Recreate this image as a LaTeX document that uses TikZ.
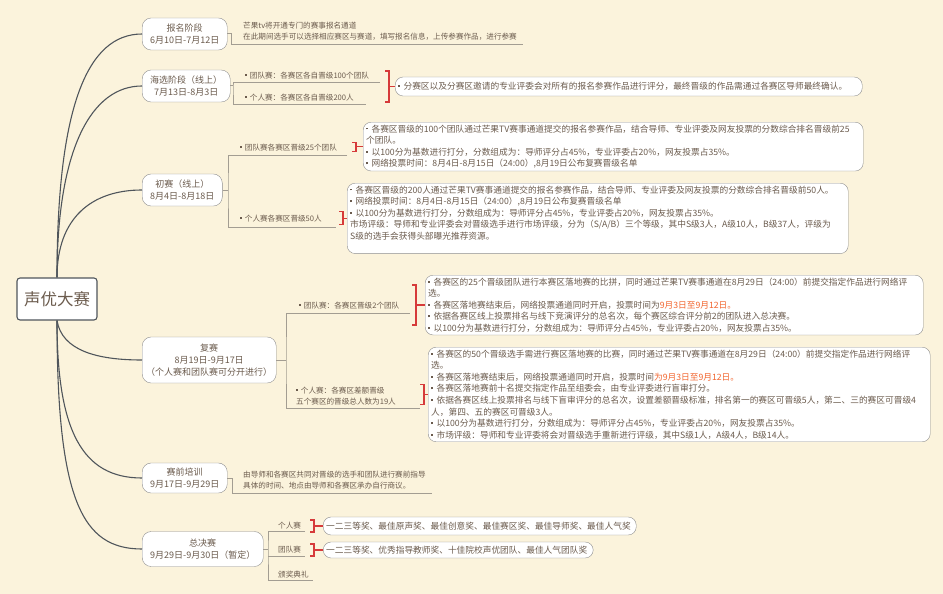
\documentclass[tikz,border=0pt]{standalone}
\usepackage{fontspec}
\setmainfont{Noto Sans CJK SC}
\definecolor{bg}{HTML}{FBF3DC}
\definecolor{txt}{HTML}{6B5B4D}
\definecolor{boxgray}{HTML}{8E8E8E}
\definecolor{linkgray}{HTML}{A39D92}
\definecolor{trunkgray}{HTML}{4F555B}
\definecolor{bracered}{HTML}{D63A3A}
\definecolor{hot}{HTML}{F2652E}
\newcommand{\hot}[1]{\textcolor{hot}{#1}}
\newcommand{\bul}{\rule[0.3em]{0.22em}{0.22em}\hspace{0.4em}}
\begin{document}
\begin{tikzpicture}[x=1pt, y=-1pt,
    trunk/.style={draw=trunkgray, line width=1.1pt},
    link/.style={draw=linkgray, line width=1pt},
    brace/.style={draw=bracered, line width=1.2pt},
    rootbox/.style={draw=trunkgray, line width=1.1pt, fill=white, rounded corners=3pt,
        minimum width=80pt, minimum height=42pt, text=txt, font=\fontsize{16.5}{20}\selectfont},
    stage/.style={draw=boxgray, fill=white, rounded corners=9pt, anchor=west, align=center,
        inner xsep=8pt, inner ysep=3pt, minimum height=32pt, text=txt, font=\fontsize{9}{12}\selectfont},
    leaf/.style={anchor=base west, inner sep=0pt, align=left, text=txt, font=\fontsize{7.6}{11}\selectfont},
    detail/.style={draw=boxgray, fill=white, rounded corners=8pt, align=left, inner xsep=3pt,
        inner ysep=2.5pt, text=txt, font=\fontsize{8.7}{11.6}\selectfont},
]
\fill[bg] (0,0) rectangle (943,594);
\useasboundingbox (0,0) rectangle (943,594);

% root and stages
\node[rootbox] (root) at (57,299) {声优大赛};
\node[stage] (s1) at (142,34) {报名阶段\\6月10日-7月12日};
\node[stage] (s2) at (142,86) {海选阶段（线上）\\7月13日-8月3日};
\node[stage] (s3) at (142,190) {初赛（线上）\\8月4日-8月18日};
\node[stage, inner xsep=4pt, minimum height=46pt] (s4) at (142,360) {复赛\\8月19日-9月17日\\（个人赛和团队赛可分开进行）};
\node[stage, minimum height=30pt] (s5) at (142,478) {赛前培训\\9月17日-9月29日};
\node[stage, minimum height=35pt] (s6) at (142,549) {总决赛\\9月29日-9月30日（暂定）};

\draw[trunk] (root.north) .. controls +(0,-170) and +(-55,0) .. (s1.west);
\draw[trunk] (root.north) .. controls +(0,-130) and +(-50,0) .. (s2.west);
\draw[trunk] (root.north) .. controls +(0,-60) and +(-50,0) .. (s3.west);
\draw[trunk] (root.south) .. controls +(5,30) and +(-45,0) .. (s4.west);
\draw[trunk] (root.south) .. controls +(0,110) and +(-60,0) .. (s5.west);
\draw[trunk] (root.south) .. controls +(0,180) and +(-60,0) .. (s6.west);

% leaves (base = last line)
\node[leaf] (l1) at (243,40) {芒果tv将开通专门的赛事报名通道\\在此期间选手可以选择相应赛区与赛道，填写报名信息，上传参赛作品，进行参赛};
\node[leaf] (l2a) at (245,78) {\bul 团队赛：各赛区各自晋级100个团队};
\node[leaf] (l2b) at (245,100) {\bul 个人赛：各赛区各自晋级200人};
\node[leaf] (l3a) at (240,150) {\bul 团队赛各赛区晋级25个团队};
\node[leaf] (l3b) at (240,221) {\bul 个人赛各赛区晋级50人};
\node[leaf] (l4a) at (299,308) {\bul 团队赛：各赛区晋级2个团队};
\node[leaf] (l4b) at (296,404) {\bul 个人赛：各赛区差额晋级\\五个赛区的晋级总人数为19人};
\node[leaf] (l5) at (243,488) {由导师和各赛区共同对晋级的选手和团队进行赛前指导\\具体的时间、地点由导师和各赛区承办自行商议。};
\node[leaf] (l6a) at (278,528) {个人赛};
\node[leaf] (l6b) at (278,552) {团队赛};
\node[leaf] (l6c) at (278,577) {颁奖典礼};

% junctions and underline ends
\coordinate (j1) at (231,34);  \coordinate (u1) at (523,45);
\coordinate (j2) at (233,86);  \coordinate (u2a) at (380,83);  \coordinate (u2b) at (366,104);
\coordinate (j3) at (228,190); \coordinate (u3a) at (347,155); \coordinate (u3b) at (336,227);
\coordinate (j4) at (286,360); \coordinate (u4a) at (410,313); \coordinate (u4b) at (420,408);
\coordinate (j5) at (232,478); \coordinate (u5) at (432,493);
\coordinate (j6) at (268,549); \coordinate (u6a) at (305,531); \coordinate (u6b) at (305,556); \coordinate (u6c) at (313,580);

\draw[link] (s1.east) -- (j1) |- (u1);
\draw[link] (s5.east) -- (j5) |- (u5);
\foreach \s/\j/\a/\b in {s2/j2/u2a/u2b, s3/j3/u3a/u3b, s4/j4/u4a/u4b, s6/j6/u6a/u6c} {
    \draw[link] (\s.east) -- (\j);
    \draw[link] (\a) -| (\j) |- (\b);
}
\draw[link] (j6 |- u6b) -- (u6b);

% detail boxes
\node[detail, anchor=west, text width=461pt, minimum height=19pt] (d2) at (395,86.5)
    {\bul 分赛区以及分赛区邀请的专业评委会对所有的报名参赛作品进行评分，最终晋级的作品需通过各赛区导师最终确认。};
\node[detail, anchor=north west, text width=494pt] (d3a) at (363,122)
    {\bul 各赛区晋级的100个团队通过芒果TV赛事通道提交的报名参赛作品，结合导师、专业评委及网友投票的分数综合排名晋级前25\\
     个团队。\\
     \bul 以100分为基数进行打分，分数组成为：导师评分占45\%，专业评委占20\%，网友投票占35\%。\\
     \bul 网络投票时间：8月4日-8月15日（24:00）,8月19日公布复赛晋级名单};
\node[detail, anchor=north west, text width=495pt] (d3b) at (347,183)
    {\bul 各赛区晋级的200人通过芒果TV赛事通道提交的报名参赛作品，结合导师、专业评委及网友投票的分数综合排名晋级前50人。\\
     \bul 网络投票时间：8月4日-8月15日（24:00）,8月19日公布复赛晋级名单\\
     \bul 以100分为基数进行打分，分数组成为：导师评分占45\%，专业评委占20\%，网友投票占35\%。\\
     市场评级：导师和专业评委会对晋级选手进行市场评级，分为（S/A/B）三个等级，其中S级3人，A级10人，B级37人，评级为\\
     S级的选手会获得头部曝光推荐资源。\\ \mbox{}};
\node[detail, anchor=north west, text width=492pt] (d4a) at (425,275)
    {\bul 各赛区的25个晋级团队进行本赛区落地赛的比拼，同时通过芒果TV赛事通道在8月29日（24:00）前提交指定作品进行网络评\\
     选。\\
     \bul 各赛区落地赛结束后，网络投票通道同时开启，投票时间为\hot{9月3日至9月12日。}\\
     \bul 依据各赛区线上投票排名与线下竞演评分的总名次，每个赛区综合评分前2的团队进入总决赛。\\
     \bul 以100分为基数进行打分，分数组成为：导师评分占45\%，专业评委占20\%，网友投票占35\%。};
\node[detail, anchor=north west, text width=496pt] (d4b) at (428,347)
    {\bul 各赛区的50个晋级选手需进行赛区落地赛的比赛，同时通过芒果TV赛事通道在8月29日（24:00）前提交指定作品进行网络评\\
     选。\\
     \bul 各赛区落地赛结束后，网络投票通道同时开启，投票时间\hot{为9月3日至9月12日。}\\
     \bul 各赛区落地赛前十名提交指定作品至组委会，由专业评委进行盲审打分。\\
     \bul 依据各赛区线上投票排名与线下盲审评分的总名次，设置差额晋级标准，排名第一的赛区可晋级5人，第二、三的赛区可晋级4\\
     人，第四、五的赛区可晋级3人。\\
     \bul 以100分为基数进行打分，分数组成为：导师评分占45\%，专业评委占20\%，网友投票占35\%。\\
     \bul 市场评级：导师和专业评委将会对晋级选手重新进行评级，其中S级1人，A级4人，B级14人。};
\node[detail, anchor=west, text width=307pt, minimum height=18pt] (d6a) at (323,526)
    {一二三等奖、最佳原声奖、最佳创意奖、最佳赛区奖、最佳导师奖、最佳人气奖};
\node[detail, anchor=west, text width=264pt, minimum height=16pt] (d6b) at (323,550)
    {一二三等奖、优秀指导教师奖、十佳院校声优团队、最佳人气团队奖};

% red brackets
\foreach \d/\g/\h in {d2/6/15.5, d3a/7/4.5, d3b/4/6.5, d4a/9/20, d4b/4/10, d6a/9/6, d6b/9/6}
    \draw[brace] (\d.west) -- ++(-\g,0) ++(-4,-\h) -- ++(4,0) -- ++(0,2*\h) -- ++(-4,0);
\end{tikzpicture}
\end{document}
